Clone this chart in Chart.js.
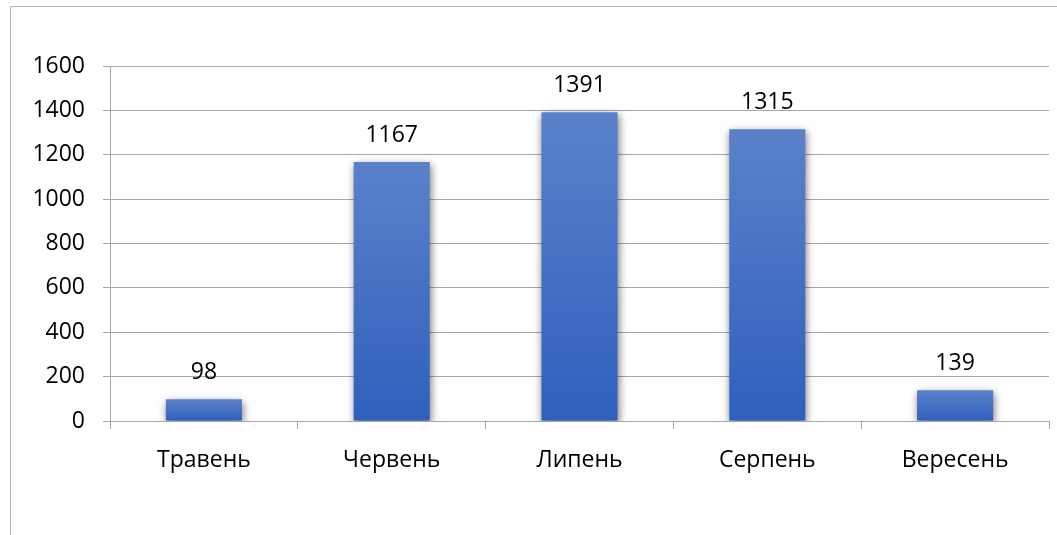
<!DOCTYPE html>
<html>
<head>
<meta charset="utf-8">
<script src="https://cdn.jsdelivr.net/npm/chart.js@4/dist/chart.umd.min.js"></script>
<style>
  html, body { margin: 0; padding: 0; background: #fff; }
  #wrap { width: 1057px; height: 535px; }
</style>
</head>
<body>
<div id="wrap"><canvas id="c" width="1057" height="535"></canvas></div>
<script>
// Monthly totals
const months = ['Травень', 'Червень', 'Липень', 'Серпень', 'Вересень'];
const totals = [98, 1167, 1391, 1315, 139];
const yTicks = [0, 200, 400, 600, 800, 1000, 1200, 1400, 1600];

const FONT = '"Open Sans", "Noto Sans", sans-serif';
const GRID = '#a6a6a6';

// Outer frame of the chart object
const framePlugin = {
  id: 'frame',
  beforeDraw(chart) {
    const ctx = chart.ctx;
    ctx.save();
    ctx.fillStyle = '#fff';
    ctx.fillRect(0, 0, chart.width, chart.height);
    ctx.strokeStyle = '#b4b4b4';
    ctx.lineWidth = 1;
    ctx.strokeRect(10.5, 6.5, chart.width + 20, chart.height + 20);
    ctx.restore();
  }
};

// Soft drop shadow under the bars, then value labels above them
const barDecor = {
  id: 'barDecor',
  beforeDatasetsDraw(chart) {
    const ctx = chart.ctx;
    ctx.save();
    ctx.shadowColor = 'rgba(0,0,0,0.55)';
    ctx.shadowBlur = 8;
    ctx.shadowOffsetX = 1;
    ctx.shadowOffsetY = 3;
  },
  afterDatasetsDraw(chart) {
    const ctx = chart.ctx;
    ctx.restore();
    ctx.save();
    ctx.font = '23px ' + FONT;
    ctx.fillStyle = '#000';
    ctx.textAlign = 'center';
    ctx.textBaseline = 'middle';
    const meta = chart.getDatasetMeta(0);
    meta.data.forEach((bar, i) => {
      ctx.fillText(String(totals[i]), bar.x, bar.y - 27);
    });
    ctx.restore();
  }
};

// Vertical gradient spanning each bar from its top down to zero
function barGradient(context) {
  const chart = context.chart;
  const y = chart.scales.y;
  const v = context.raw;
  if (!y || typeof v !== 'number') return '#4472c4';
  const top = y.getPixelForValue(v);
  const bottom = y.getPixelForValue(0);
  if (!isFinite(top) || !isFinite(bottom) || top === bottom) return '#4472c4';
  const g = chart.ctx.createLinearGradient(0, top, 0, bottom);
  g.addColorStop(0, '#5b81ca');
  g.addColorStop(1, '#2f60bd');
  return g;
}

new Chart(document.getElementById('c'), {
  type: 'bar',
  data: {
    labels: months,
    datasets: [{
      data: totals,
      backgroundColor: barGradient,
      borderWidth: 0,
      barPercentage: 0.81,
      categoryPercentage: 0.5
    }]
  },
  options: {
    responsive: false,
    animation: false,
    events: [],
    layout: { padding: { left: 0, top: 66, right: 8, bottom: 0 } },
    plugins: { legend: { display: false }, tooltip: { enabled: false } },
    scales: {
      x: {
        grid: { drawOnChartArea: false, color: GRID, tickLength: 8, offset: true },
        border: { color: GRID },
        ticks: { color: '#000', font: { family: FONT, size: 23 }, padding: 18 },
        afterFit(scale) { scale.height = 535 - 421; }
      },
      y: {
        min: 0, max: 1600,
        afterBuildTicks(scale) { scale.ticks = yTicks.map(v => ({ value: v })); },
        grid: { color: GRID, tickLength: 7 },
        border: { color: GRID },
        ticks: {
          color: '#000', font: { family: FONT, size: 23 }, padding: 18,
          callback: (v) => String(v)
        },
        afterFit(scale) { scale.width = 110; }
      }
    }
  },
  plugins: [framePlugin, barDecor]
});
</script>
</body>
</html>
